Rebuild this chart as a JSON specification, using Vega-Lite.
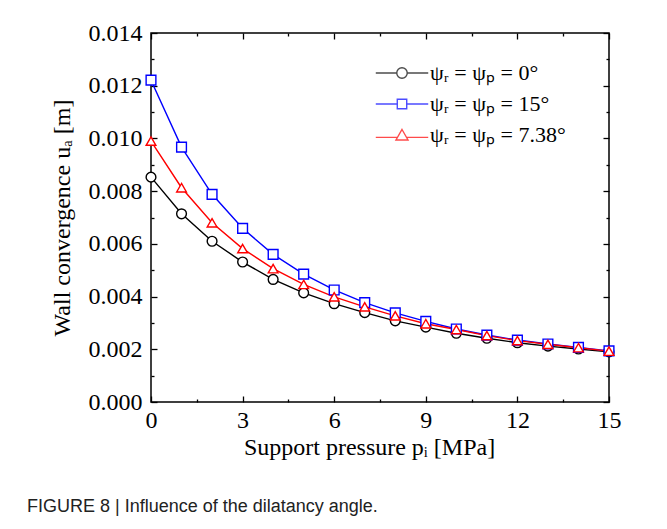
{
  "$schema": "https://vega.github.io/schema/vega-lite/v6.json",
  "autosize": "none",
  "width": 458,
  "height": 369,
  "padding": {"left": 151, "top": 33, "right": 58, "bottom": 127},
  "background": "white",
  "title": {
    "text": "FIGURE 8 | Influence of the dilatancy angle.",
    "orient": "bottom",
    "anchor": "start",
    "frame": "group",
    "dx": -124,
    "offset": 39,
    "font": "Liberation Sans",
    "fontSize": 18,
    "fontWeight": "normal",
    "color": "#222222"
  },
  "config": {
    "view": {"stroke": "black", "strokeWidth": 1.5},
    "axis": {
      "domain": false,
      "grid": false,
      "labelFlush": false,
      "tickColor": "black",
      "tickWidth": 1.3,
      "labelFont": "Liberation Serif",
      "labelFontSize": 24,
      "labelColor": "black",
      "titleFont": "Liberation Serif",
      "titleFontSize": 24,
      "titleFontWeight": "normal",
      "titleColor": "black"
    },
    "legend": {
      "labelFont": "Liberation Serif",
      "labelFontSize": 22,
      "labelColor": "black",
      "labelLimit": 0
    }
  },
  "data": {
    "values": [
      {"p": 0, "u": 0.00853, "s": "ψᵣ = ψₚ = 0°"},
      {"p": 1, "u": 0.00714, "s": "ψᵣ = ψₚ = 0°"},
      {"p": 2, "u": 0.00610, "s": "ψᵣ = ψₚ = 0°"},
      {"p": 3, "u": 0.00531, "s": "ψᵣ = ψₚ = 0°"},
      {"p": 4, "u": 0.00465, "s": "ψᵣ = ψₚ = 0°"},
      {"p": 5, "u": 0.00414, "s": "ψᵣ = ψₚ = 0°"},
      {"p": 6, "u": 0.00373, "s": "ψᵣ = ψₚ = 0°"},
      {"p": 7, "u": 0.00339, "s": "ψᵣ = ψₚ = 0°"},
      {"p": 8, "u": 0.00308, "s": "ψᵣ = ψₚ = 0°"},
      {"p": 9, "u": 0.00284, "s": "ψᵣ = ψₚ = 0°"},
      {"p": 10, "u": 0.00261, "s": "ψᵣ = ψₚ = 0°"},
      {"p": 11, "u": 0.00242, "s": "ψᵣ = ψₚ = 0°"},
      {"p": 12, "u": 0.00225, "s": "ψᵣ = ψₚ = 0°"},
      {"p": 13, "u": 0.00212, "s": "ψᵣ = ψₚ = 0°"},
      {"p": 14, "u": 0.00201, "s": "ψᵣ = ψₚ = 0°"},
      {"p": 15, "u": 0.00190, "s": "ψᵣ = ψₚ = 0°"},
      {"p": 0, "u": 0.01221, "s": "ψᵣ = ψₚ = 15°"},
      {"p": 1, "u": 0.00967, "s": "ψᵣ = ψₚ = 15°"},
      {"p": 2, "u": 0.00788, "s": "ψᵣ = ψₚ = 15°"},
      {"p": 3, "u": 0.00659, "s": "ψᵣ = ψₚ = 15°"},
      {"p": 4, "u": 0.00560, "s": "ψᵣ = ψₚ = 15°"},
      {"p": 5, "u": 0.00485, "s": "ψᵣ = ψₚ = 15°"},
      {"p": 6, "u": 0.00425, "s": "ψᵣ = ψₚ = 15°"},
      {"p": 7, "u": 0.00377, "s": "ψᵣ = ψₚ = 15°"},
      {"p": 8, "u": 0.00338, "s": "ψᵣ = ψₚ = 15°"},
      {"p": 9, "u": 0.00306, "s": "ψᵣ = ψₚ = 15°"},
      {"p": 10, "u": 0.00277, "s": "ψᵣ = ψₚ = 15°"},
      {"p": 11, "u": 0.00254, "s": "ψᵣ = ψₚ = 15°"},
      {"p": 12, "u": 0.00235, "s": "ψᵣ = ψₚ = 15°"},
      {"p": 13, "u": 0.00220, "s": "ψᵣ = ψₚ = 15°"},
      {"p": 14, "u": 0.00207, "s": "ψᵣ = ψₚ = 15°"},
      {"p": 15, "u": 0.00194, "s": "ψᵣ = ψₚ = 15°"},
      {"p": 0, "u": 0.00990, "s": "ψᵣ = ψₚ = 7.38°"},
      {"p": 1, "u": 0.00813, "s": "ψᵣ = ψₚ = 7.38°"},
      {"p": 2, "u": 0.00680, "s": "ψᵣ = ψₚ = 7.38°"},
      {"p": 3, "u": 0.00582, "s": "ψᵣ = ψₚ = 7.38°"},
      {"p": 4, "u": 0.00506, "s": "ψᵣ = ψₚ = 7.38°"},
      {"p": 5, "u": 0.00446, "s": "ψᵣ = ψₚ = 7.38°"},
      {"p": 6, "u": 0.00399, "s": "ψᵣ = ψₚ = 7.38°"},
      {"p": 7, "u": 0.00361, "s": "ψᵣ = ψₚ = 7.38°"},
      {"p": 8, "u": 0.00327, "s": "ψᵣ = ψₚ = 7.38°"},
      {"p": 9, "u": 0.00297, "s": "ψᵣ = ψₚ = 7.38°"},
      {"p": 10, "u": 0.00275, "s": "ψᵣ = ψₚ = 7.38°"},
      {"p": 11, "u": 0.00252, "s": "ψᵣ = ψₚ = 7.38°"},
      {"p": 12, "u": 0.00233, "s": "ψᵣ = ψₚ = 7.38°"},
      {"p": 13, "u": 0.00219, "s": "ψᵣ = ψₚ = 7.38°"},
      {"p": 14, "u": 0.00206, "s": "ψᵣ = ψₚ = 7.38°"},
      {"p": 15, "u": 0.00193, "s": "ψᵣ = ψₚ = 7.38°"}
    ]
  },
  "resolve": {
    "axis": {"x": "independent", "y": "independent"},
    "scale": {"color": "independent", "shape": "independent"}
  },
  "layer": [
    {
      "mark": {"type": "line", "strokeWidth": 1.4},
      "encoding": {
        "x": {"field": "p", "type": "quantitative",
              "scale": {"domain": [0, 15], "nice": false, "zero": false},
              "axis": {"orient": "bottom", "values": [0, 3, 6, 9, 12, 15], "format": "d",
                       "tickSize": -6, "labelPadding": 12,
                       "title": "Support pressure pᵢ [MPa]", "titlePadding": 3, "titleX": 218}},
        "y": {"field": "u", "type": "quantitative",
              "scale": {"domain": [0, 0.014], "nice": false},
              "axis": {"orient": "left", "values": [0, 0.002, 0.004, 0.006, 0.008, 0.01, 0.012, 0.014], "format": ".3f",
                       "tickSize": -6, "labelPadding": 15,
                       "title": "Wall convergence uₐ [m]", "titlePadding": 14}},
        "color": {"field": "s", "type": "nominal",
                  "scale": {"domain": ["ψᵣ = ψₚ = 0°", "ψᵣ = ψₚ = 15°", "ψᵣ = ψₚ = 7.38°"], "range": ["#000000", "#0000ff", "#ff0000"]},
                  "legend": null}
      }
    },
    {
      "mark": {"type": "point", "filled": false, "fill": "white", "fillOpacity": 1, "opacity": 1, "strokeWidth": 1.4, "size": 95},
      "encoding": {
        "x": {"field": "p", "type": "quantitative",
              "axis": {"orient": "bottom", "values": [1.5, 4.5, 7.5, 10.5, 13.5], "labels": false, "tickSize": -3, "title": null}},
        "y": {"field": "u", "type": "quantitative",
              "axis": {"orient": "left", "values": [0.001, 0.003, 0.005, 0.007, 0.009, 0.011, 0.013], "labels": false, "tickSize": -3, "title": null}},
        "color": {"field": "s", "type": "nominal",
                  "scale": {"domain": ["ψᵣ = ψₚ = 0°", "ψᵣ = ψₚ = 15°", "ψᵣ = ψₚ = 7.38°"], "range": ["#000000", "#0000ff", "#ff0000"]},
                  "legend": null},
        "shape": {"field": "s", "type": "nominal",
                  "scale": {"domain": ["ψᵣ = ψₚ = 0°", "ψᵣ = ψₚ = 15°", "ψᵣ = ψₚ = 7.38°"], "range": ["circle", "square", "triangle-up"]},
                  "legend": null}
      }
    },
    {
      "transform": [{"filter": "datum.p > 100"}],
      "mark": {"type": "point", "filled": false, "fill": "white", "strokeWidth": 1.4, "size": 110},
      "encoding": {
        "x": {"field": "p", "type": "quantitative",
              "axis": {"orient": "top", "values": [0, 3, 6, 9, 12, 15], "labels": false, "tickSize": -6, "title": null}},
        "y": {"field": "u", "type": "quantitative",
              "axis": {"orient": "right", "values": [0, 0.002, 0.004, 0.006, 0.008, 0.01, 0.012, 0.014], "labels": false, "tickSize": -6, "title": null}},
        "color": {"field": "s", "type": "nominal",
                  "scale": {"domain": ["ψᵣ = ψₚ = 0°", "ψᵣ = ψₚ = 15°", "ψᵣ = ψₚ = 7.38°"], "range": ["#000000", "#0000ff", "#ff0000"]},
                  "legend": {"title": null, "orient": "none", "legendX": 240, "legendY": 29, "padding": 0,
                             "rowPadding": 9, "symbolSize": 110, "symbolStrokeWidth": 1.4, "symbolFillColor": "white",
                             "labelOffset": 17, "labelFont": "Liberation Serif", "labelFontSize": 22}},
        "shape": {"field": "s", "type": "nominal",
                  "scale": {"domain": ["ψᵣ = ψₚ = 0°", "ψᵣ = ψₚ = 15°", "ψᵣ = ψₚ = 7.38°"],
                            "range": ["M-5,0H-1M1,0H5M-1,0A1,1 0 1,1 1,0A1,1 0 1,1 -1,0Z",
                                      "M-5,0H-0.9M0.9,0H5M-0.9,-0.9H0.9V0.9H-0.9Z",
                                      "M-5,0.45H-0.78M0.78,0.45H5M0,-1.05L1.15,0.95H-1.15Z"]},
                  "legend": {"title": null, "orient": "none", "legendX": 240, "legendY": 29, "padding": 0,
                             "rowPadding": 9, "symbolSize": 110, "symbolStrokeWidth": 1.4, "symbolFillColor": "white",
                             "labelOffset": 17, "labelFont": "Liberation Serif", "labelFontSize": 22}}
      }
    },
    {
      "transform": [{"filter": "datum.p > 100"}],
      "mark": {"type": "point", "opacity": 0},
      "encoding": {
        "x": {"field": "p", "type": "quantitative",
              "axis": {"orient": "top", "values": [1.5, 4.5, 7.5, 10.5, 13.5], "labels": false, "tickSize": -3, "title": null}},
        "y": {"field": "u", "type": "quantitative",
              "axis": {"orient": "right", "values": [0.001, 0.003, 0.005, 0.007, 0.009, 0.011, 0.013], "labels": false, "tickSize": -3, "title": null}}
      }
    }
  ]
}
